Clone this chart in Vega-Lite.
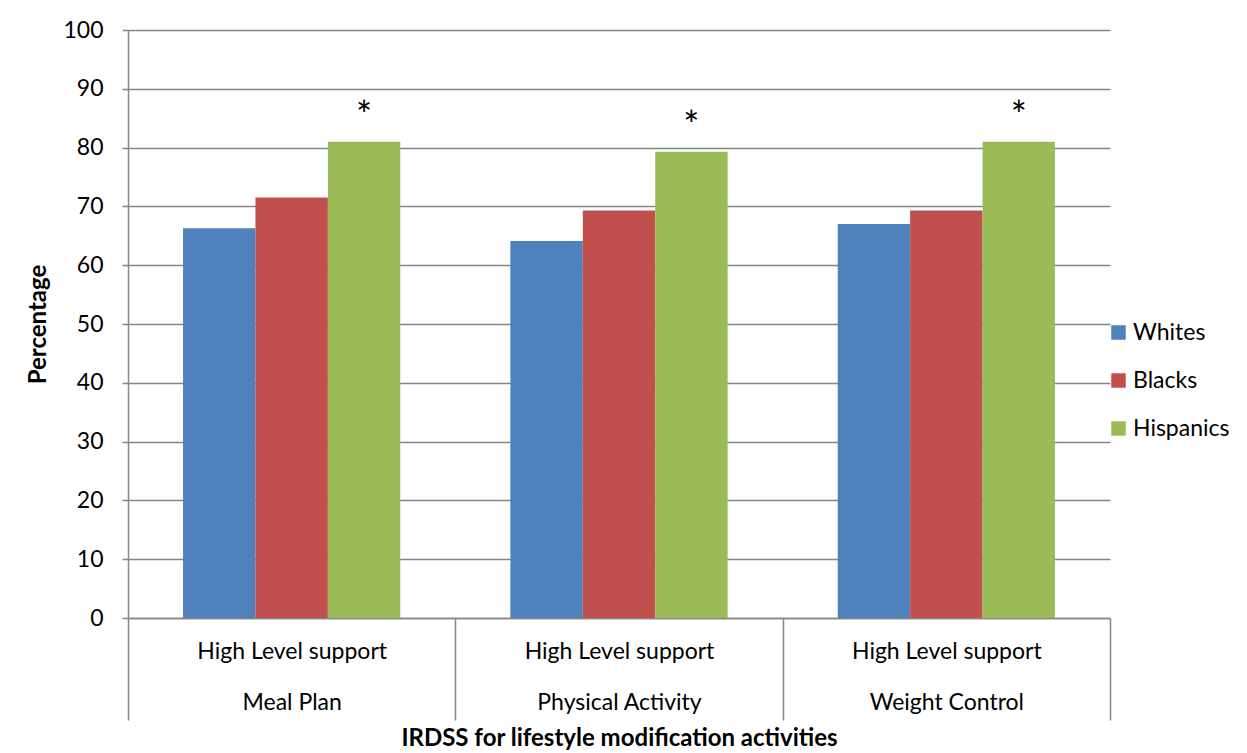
{
  "$schema": "https://vega.github.io/schema/vega-lite/v6.json",
  "width": 982,
  "height": 588,
  "autosize": {"type": "none"},
  "padding": {"left": 128, "top": 30, "right": 137, "bottom": 135},
  "background": "white",
  "data": {
    "values": [
      {"activity": "Meal Plan", "group": "Whites", "pct": 66.3, "sig": ""},
      {"activity": "Meal Plan", "group": "Blacks", "pct": 71.5, "sig": ""},
      {"activity": "Meal Plan", "group": "Hispanics", "pct": 81.0, "sig": "*"},
      {"activity": "Physical Activity", "group": "Whites", "pct": 64.1, "sig": ""},
      {"activity": "Physical Activity", "group": "Blacks", "pct": 69.3, "sig": ""},
      {"activity": "Physical Activity", "group": "Hispanics", "pct": 79.3, "sig": "*"},
      {"activity": "Weight Control", "group": "Whites", "pct": 67.0, "sig": ""},
      {"activity": "Weight Control", "group": "Blacks", "pct": 69.3, "sig": ""},
      {"activity": "Weight Control", "group": "Hispanics", "pct": 81.0, "sig": "*"}
    ]
  },
  "config": {
    "font": "Lato",
    "view": {"stroke": null},
    "axis": {
      "labelColor": "black",
      "titleColor": "black",
      "labelFontSize": 23,
      "titleFontSize": 24,
      "titleFontWeight": "bold",
      "labelLimit": 0,
      "domainColor": "#868686",
      "domainWidth": 1.5,
      "tickColor": "#868686",
      "tickWidth": 1.5,
      "gridColor": "#868686",
      "gridWidth": 1.5
    }
  },
  "encoding": {
    "x": {
      "field": "activity",
      "type": "nominal",
      "sort": ["Meal Plan", "Physical Activity", "Weight Control"],
      "scale": {"paddingInner": 0, "paddingOuter": 0},
      "axis": {
        "title": "IRDSS for lifestyle modification activities",
        "labelAngle": 0,
        "tickBand": "extent",
        "tickSize": 102,
        "labelExpr": "datum.label ? ['High Level support', datum.label] : ''",
        "labelLineHeight": 51,
        "labelBaseline": "top",
        "labelPadding": -80,
        "titlePadding": 6
      }
    },
    "xOffset": {
      "field": "group",
      "type": "nominal",
      "sort": ["Whites", "Blacks", "Hispanics"],
      "scale": {"paddingInner": 0, "paddingOuter": 0.76}
    },
    "y": {
      "field": "pct",
      "type": "quantitative",
      "scale": {"domain": [0, 100], "nice": false},
      "axis": {
        "title": "Percentage",
        "values": [0, 10, 20, 30, 40, 50, 60, 70, 80, 90, 100],
        "grid": true,
        "tickSize": 6,
        "labelPadding": 19,
        "titlePadding": 12
      }
    }
  },
  "layer": [
    {
      "mark": {"type": "bar"},
      "encoding": {
        "color": {
          "field": "group",
          "type": "nominal",
          "sort": ["Whites", "Blacks", "Hispanics"],
          "scale": {"domain": ["Whites", "Blacks", "Hispanics"], "range": ["#4F81BD", "#C0504D", "#9BBB59"]},
          "legend": {
            "orient": "none",
            "legendX": 979,
            "legendY": 291,
            "title": null,
            "symbolType": "square",
            "symbolSize": 210,
            "symbolStrokeWidth": 0,
            "labelFontSize": 23,
            "labelColor": "black",
            "labelOffset": 3,
            "rowPadding": 24
          }
        }
      }
    },
    {
      "mark": {"type": "text", "fontSize": 38, "baseline": "middle", "dy": -24, "color": "black"},
      "encoding": {"text": {"field": "sig"}}
    }
  ]
}
